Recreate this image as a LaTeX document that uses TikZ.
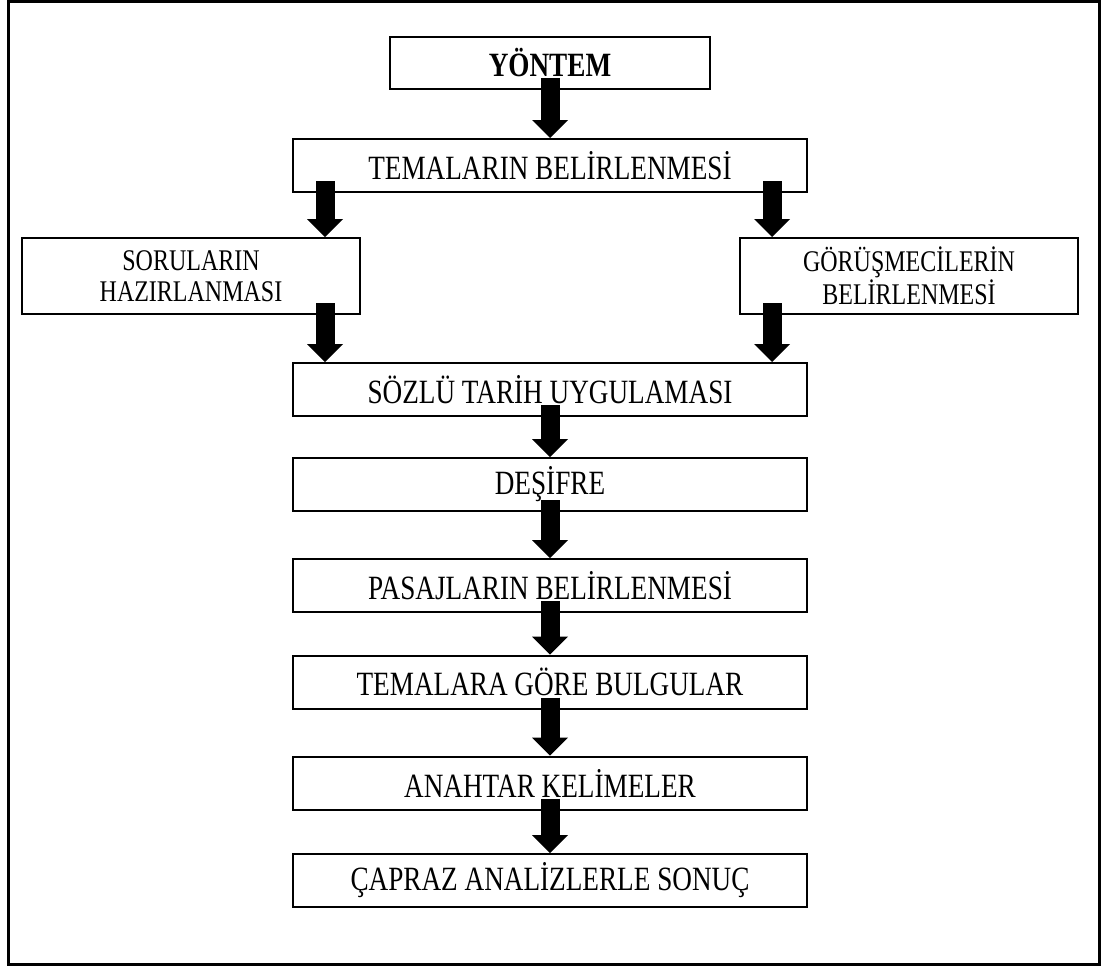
\documentclass[tikz,border=0pt]{standalone}
\usepackage{fontspec}
\setmainfont{Liberation Serif}[FakeStretch=0.8]
\usetikzlibrary{arrows.meta}

\begin{document}
\begin{tikzpicture}[x=0.5pt,y=-0.5pt,
	kutu/.style={draw,line width=1pt,fill=white,inner sep=0pt,align=center,
		minimum width=257pt,minimum height=26.5pt,font=\fontsize{17pt}{20pt}\selectfont},
	yankutu/.style={kutu,minimum width=169pt,minimum height=38pt,font=\fontsize{15pt}{15.5pt}\selectfont},
	ok/.style={line width=9.5pt,-{Triangle[width=18pt,length=9pt,line width=0pt]}}]
%					Cadre :
					\useasboundingbox (0,0) rectangle (1101,965);
					\draw[line width=1.5pt] (8,1.5) rectangle (1099,964);
%					Tracé des boîtes :
					\node[kutu,minimum width=160pt,minimum height=26pt] (yontem) at (550,63) {\textbf{YÖNTEM}};
					\node[kutu] (temalar) at (550,165.5) {TEMALARIN BELİRLENMESİ};
					\node[yankutu] (sorular) at (191,276) {SORULARIN\\HAZIRLANMASI};
					\node[yankutu] (gorusme) at (909,276) {GÖRÜŞMECİLERİN\\BELİRLENMESİ};
					\node[kutu] (sozlu) at (550,389.5) {SÖZLÜ TARİH UYGULAMASI};
					\node[kutu] (desifre) at (550,484.5) {DEŞİFRE};
					\node[kutu] (pasaj) at (550,585.5) {PASAJLARIN BELİRLENMESİ};
					\node[kutu] (bulgu) at (550,682) {TEMALARA GÖRE BULGULAR};
					\node[kutu] (anahtar) at (550,783) {ANAHTAR KELİMELER};
					\node[kutu] (capraz) at (550,880.5) {ÇAPRAZ ANALİZLERLE SONUÇ};
%					Tracé des flèches :
					\draw[ok] ([yshift=6pt]yontem.south) -- (temalar.north);
					\coordinate (solok) at ([xshift=16.5pt]temalar.south west);
					\coordinate (sagok) at ([xshift=-18pt]temalar.south east);
					\draw[ok] ([yshift=6pt]solok) -- (solok |- sorular.north);
					\draw[ok] ([yshift=6pt]sagok) -- (sagok |- gorusme.north);
					\path (solok |- sorular.south) ++(0,-12) coordinate (solalt);
					\path (sagok |- gorusme.south) ++(0,-12) coordinate (sagalt);
					\draw[ok] (solalt) -- (solalt |- sozlu.north);
					\draw[ok] (sagalt) -- (sagalt |- sozlu.north);
					\foreach \a/\b in {sozlu/desifre,desifre/pasaj,pasaj/bulgu,bulgu/anahtar,anahtar/capraz}
						\draw[ok] ([yshift=6pt]\a.south) -- (\b.north);
\end{tikzpicture}
\end{document}
